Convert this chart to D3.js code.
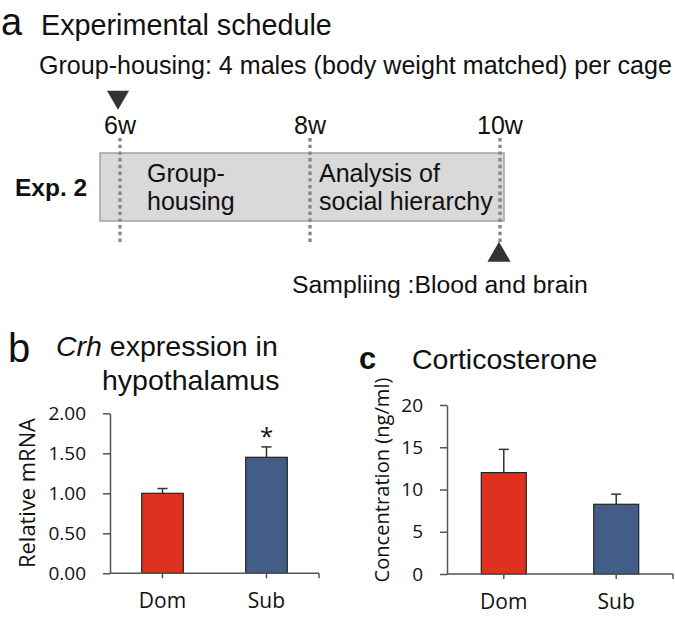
<!DOCTYPE html>
<html><head><meta charset="utf-8">
<script src="https://cdn.jsdelivr.net/npm/d3@7"></script>
<style>
html,body{margin:0;padding:0;background:#fff;}
svg{display:block;}
</style></head>
<body>
<svg id="chart" width="675" height="625"></svg>
<script>
// ---------- data ----------
const categories = ["Dom", "Sub"];
const crhMean = [1.00, 1.45];
const crhErr = [0.06, 0.13];
const crhTicks = [0, 0.5, 1.0, 1.5, 2.0];
const cortMean = [12.0, 8.25];
const cortErr = [2.75, 1.2];
const cortTicks = [0, 5, 10, 15, 20];
const weeks = [6, 8, 10];
const weekLabels = ["6w", "8w", "10w"];
const phaseStarts = [6, 8];
const phaseLabels = [["Group-", "housing"], ["Analysis of", "social hierarchy"]];
const barColors = ["#df3120", "#425d87"];

const svg = d3.select("#chart");
const SANS = "'Liberation Sans', Arial, sans-serif";
const AX = "'Open Sans', sans-serif";

function fit(sel, target) {
  const n = sel.node();
  const w = n.getComputedTextLength();
  const fs = parseFloat(sel.attr("font-size"));
  sel.attr("font-size", (fs * target / w).toFixed(2));
  return sel;
}

// ---------- panel a ----------
svg.append("text").attr("x", 1).attr("y", 35).attr("font-family", SANS)
  .attr("font-size", 38).attr("fill", "#111").text("a");
fit(svg.append("text").attr("x", 41).attr("y", 35).attr("font-family", SANS)
  .attr("font-size", 28).attr("fill", "#111").text("Experimental schedule"), 291);
fit(svg.append("text").attr("x", 39).attr("y", 74).attr("font-family", SANS)
  .attr("font-size", 24).attr("fill", "#111")
  .text("Group-housing: 4 males (body weight matched) per cage"), 633);

const xw = d3.scaleLinear().domain([6, 10]).range([120, 500]);

// down triangle at start
svg.append("path").attr("fill", "#333")
  .attr("d", d3.symbol().type(d3.symbolTriangle).size(210)())
  .attr("transform", `translate(${xw(6) - 2},97) rotate(180)`);

// box
svg.append("rect").attr("x", xw(6) - 20).attr("y", 153)
  .attr("width", xw(10) + 4 - (xw(6) - 20)).attr("height", 68)
  .attr("fill", "#d9d9d9").attr("stroke", "#a3a3a3").attr("stroke-width", 1.5);

// dotted lines
svg.selectAll(".wk").data(weeks).enter().append("line")
  .attr("x1", d => xw(d)).attr("x2", d => xw(d))
  .attr("y1", 138).attr("y2", 242)
  .attr("stroke", "#858585").attr("stroke-width", 3.3)
  .attr("stroke-dasharray", "3.4,3.3");

svg.selectAll(".wkl").data(weeks).enter().append("text")
  .attr("x", d => xw(d)).attr("y", 134).attr("text-anchor", "middle")
  .attr("font-family", SANS).attr("font-size", 25).attr("fill", "#111")
  .text((d, i) => weekLabels[i]);

svg.append("text").attr("x", 15).attr("y", 196).attr("font-family", SANS)
  .attr("font-size", 24.5).attr("font-weight", "bold").attr("fill", "#111").text("Exp. 2");

const phaseOffsets = [27, 9];
phaseStarts.forEach((s, i) => {
  phaseLabels[i].forEach((t, j) => {
    svg.append("text").attr("x", xw(s) + phaseOffsets[i]).attr("y", 182 + j * 28)
      .attr("font-family", SANS).attr("font-size", 25).attr("fill", "#111").text(t);
  });
});

// up triangle at end
svg.append("path").attr("fill", "#333")
  .attr("d", d3.symbol().type(d3.symbolTriangle).size(230)())
  .attr("transform", `translate(${xw(10) - 1},255)`);

fit(svg.append("text").attr("x", 292).attr("y", 293).attr("font-family", SANS)
  .attr("font-size", 24).attr("fill", "#111").text("Sampliing :Blood and brain"), 296);

// ---------- bar panel helper ----------
function barPanel(o) {
  const x = d3.scaleBand().domain(categories).range([o.x0, o.x1])
    .paddingInner(0.6).paddingOuter(0.305);
  const y = d3.scaleLinear().domain([o.ticks[0], o.ticks[o.ticks.length - 1]]).range([o.y0, o.y1]);
  const g = svg.append("g");
  const axisCol = "#555";

  // error bars
  categories.forEach((c, i) => {
    const cx = x(c) + x.bandwidth() / 2;
    g.append("line").attr("x1", cx).attr("x2", cx)
      .attr("y1", y(o.mean[i])).attr("y2", y(o.mean[i] + o.err[i]))
      .attr("stroke", "#333").attr("stroke-width", 1.5);
    g.append("line").attr("x1", cx - 5).attr("x2", cx + 5)
      .attr("y1", y(o.mean[i] + o.err[i])).attr("y2", y(o.mean[i] + o.err[i]))
      .attr("stroke", "#333").attr("stroke-width", 1.5);
  });

  g.selectAll(".bar").data(o.mean).enter().append("rect")
    .attr("x", (d, i) => x(categories[i])).attr("width", x.bandwidth())
    .attr("y", d => y(d)).attr("height", d => y(0) - y(d))
    .attr("fill", (d, i) => barColors[i]).attr("stroke", "#222").attr("stroke-width", 1.2);

  // y axis
  const ya = g.append("g").attr("transform", `translate(${o.x0},0)`)
    .call(d3.axisLeft(y).tickValues(o.ticks).tickFormat(o.fmt).tickSize(7).tickPadding(17).tickSizeOuter(0));
  ya.select(".domain").attr("stroke", axisCol).attr("stroke-width", 1.5);
  ya.selectAll(".tick line").attr("stroke", axisCol).attr("stroke-width", 1.5);
  ya.selectAll("text").attr("font-family", AX).attr("font-size", 19).attr("fill", "#111");

  // x axis
  const xa = g.append("g").attr("transform", `translate(0,${o.y0})`);
  xa.append("line").attr("x1", o.x0).attr("x2", o.x1).attr("stroke", axisCol).attr("stroke-width", 1.5);
  const tickXs = categories.map(c => x(c) + x.bandwidth() / 2).concat([o.x1]);
  xa.selectAll(".xt").data(tickXs).enter().append("line")
    .attr("x1", d => d).attr("x2", d => d).attr("y1", 0).attr("y2", 5)
    .attr("stroke", axisCol).attr("stroke-width", 1.5);
  categories.forEach((c, i) => {
    xa.append("text").attr("x", x(c) + x.bandwidth() / 2).attr("y", 35)
      .attr("text-anchor", "middle").attr("font-family", AX).attr("font-size", 21)
      .attr("fill", "#111").text(c);
  });

  // y label
  fit(g.append("text").attr("transform", `translate(${o.ylx},${o.yly}) rotate(-90)`)
    .attr("text-anchor", "middle").attr("font-family", AX).attr("font-size", 19)
    .attr("fill", "#111").text(o.ylabel), o.ylen);
  return { x, y, g };
}

// ---------- panel b ----------
const pb = barPanel({
  x0: 110, x1: 319, y0: 573.3, y1: 413.3, ticks: crhTicks, fmt: d3.format(".2f"),
  mean: crhMean, err: crhErr, ylabel: "Relative mRNA", ylx: 35, yly: 493, ylen: 150
});
svg.append("text").attr("x", pb.x("Sub") + pb.x.bandwidth() / 2)
  .attr("y", pb.y(crhMean[1] + crhErr[1]) - 2).attr("text-anchor", "middle")
  .attr("font-family", AX).attr("font-size", 24).attr("fill", "#111").text("*");

svg.append("text").attr("x", 8).attr("y", 362).attr("font-family", SANS)
  .attr("font-size", 40).attr("fill", "#111").text("b");
const t1 = svg.append("text").attr("x", 56).attr("y", 356).attr("font-family", SANS)
  .attr("font-size", 28.5).attr("fill", "#111");
t1.append("tspan").attr("font-style", "italic").text("Crh");
t1.append("tspan").text(" expression in");
svg.append("text").attr("x", 102).attr("y", 390).attr("font-family", SANS)
  .attr("font-size", 28.5).attr("fill", "#111").text("hypothalamus");

// ---------- panel c ----------
barPanel({
  x0: 447, x1: 673, y0: 574, y1: 405, ticks: cortTicks, fmt: d3.format("d"),
  mean: cortMean, err: cortErr, ylabel: "Concentration (ng/ml)", ylx: 389, yly: 480, ylen: 205
});
svg.append("text").attr("x", 359).attr("y", 369).attr("font-family", SANS)
  .attr("font-size", 31).attr("font-weight", "bold").attr("fill", "#111").text("c");
svg.append("text").attr("x", 412).attr("y", 369).attr("font-family", SANS)
  .attr("font-size", 28.5).attr("fill", "#111").text("Corticosterone");
</script>
</body></html>
